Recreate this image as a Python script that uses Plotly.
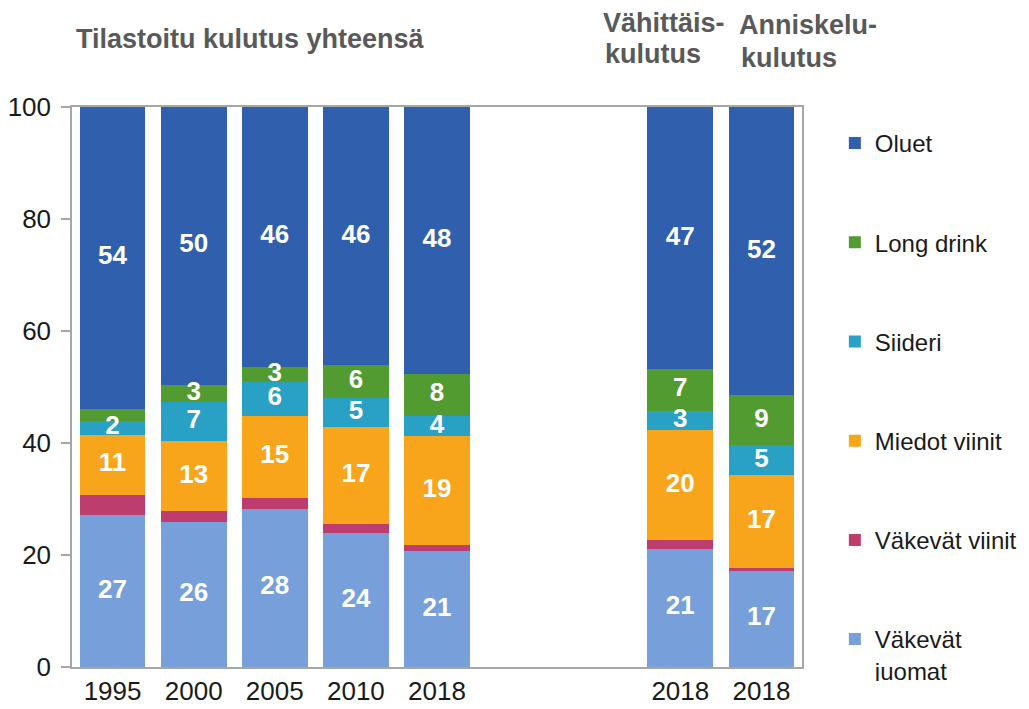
import plotly.graph_objects as go

# Category positions (slots 5 and 6 are an empty gap)
x_pos = [0, 1, 2, 3, 4, 7, 8]
x_labels = ["1995", "2000", "2005", "2010", "2018", "2018", "2018"]

series_names = ["Väkevät juomat", "Väkevät viinit", "Miedot viinit", "Siideri", "Long drink", "Oluet"]
legend_names = ["Väkevät<br>juomat", "Väkevät viinit", "Miedot viinit", "Siideri", "Long drink", "Oluet"]

vakevat_juomat = [27.1, 25.9, 28.3, 23.9, 20.7, 21.1, 17.3]
vakevat_viinit = [3.6, 1.9, 1.9, 1.6, 1.1, 1.5, 0.3]
miedot_viinit = [10.8, 12.6, 14.7, 17.4, 19.4, 19.8, 16.6]
siideri = [2.4, 6.9, 6.0, 5.2, 3.6, 3.4, 5.4]
long_drink = [2.2, 3.1, 2.7, 5.8, 7.6, 7.4, 8.9]
oluet = [53.9, 49.6, 46.4, 46.1, 47.6, 46.8, 51.5]

colors = ["#779FDA", "#BE3D6F", "#F8A51C", "#29A1C4", "#529B31", "#2F5FAD"]

values = [vakevat_juomat, vakevat_viinit, miedot_viinit, siideri, long_drink, oluet]
labeled = [True, False, True, True, True, True]

fig = go.Figure()
n = len(series_names)
for k, (name, lname, vals, col) in enumerate(zip(series_names, legend_names, values, colors)):
    fig.add_trace(go.Bar(
        x=x_pos, y=vals, name=lname, legendgroup=name, legendrank=n - k,
        marker=dict(color=col, line=dict(width=0)),
        width=0.81, hoverinfo="skip",
    ))

# value labels as a text layer drawn on top of all bars
tx, ty, tt = [], [], []
base = [0.0] * len(x_pos)
for vals, show in zip(values, labeled):
    for i, v in enumerate(vals):
        if show and v >= 2.3:
            tx.append(x_pos[i])
            ty.append(base[i] + v / 2)
            tt.append(f"{v:.0f}")
        base[i] += v
fig.add_trace(go.Scatter(
    x=tx, y=ty, text=tt, mode="text", showlegend=False, hoverinfo="skip",
    textfont=dict(family="Liberation Sans, Arial, sans-serif", size=26, color="white", weight="bold"),
    cliponaxis=False,
))

# the page body has an 8px margin, so the figure is drawn 8px smaller
axis_line = "#A6A6A6"
fig.update_layout(
    width=1021, height=701,
    barmode="stack", bargap=0,
    plot_bgcolor="white", paper_bgcolor="white",
    margin=dict(l=64, r=227, t=98.5, b=41.5, autoexpand=False),
    font=dict(family="Liberation Sans, Arial, sans-serif", size=24, color="#1A1A1A"),
    xaxis=dict(
        range=[-0.5, 8.5], tickmode="array", tickvals=x_pos, ticktext=x_labels,
        showline=True, linecolor=axis_line, linewidth=1.5, mirror=True,
        ticks="", showgrid=False, zeroline=False,
        tickfont=dict(size=26, color="#1A1A1A"),
    ),
    yaxis=dict(
        range=[0, 100], tickmode="linear", tick0=0, dtick=20,
        showline=True, linecolor=axis_line, linewidth=1.5, mirror=True,
        ticks="outside", ticklen=9, tickcolor=axis_line, tickwidth=1.5,
        showgrid=False, zeroline=False, ticklabelstandoff=5,
        tickfont=dict(size=26, color="#1A1A1A"),
    ),
    legend=dict(
        x=1.045, y=0.975, xanchor="left", yanchor="top",
        traceorder="grouped", tracegroupgap=65, valign="top",
        font=dict(size=24, color="#1A1A1A"),
        bgcolor="rgba(0,0,0,0)", maxheight=1,
    ),
    showlegend=True,
)

title_font = dict(family="Liberation Sans, Arial, sans-serif", size=27, color="#595959", weight="bold")

# positions below are page pixels, converted to paper coordinates of the plot area
def px_to_paper_y(py):
    return 1 + (106.5 - py) / 561.0

def px_to_paper_x(px):
    return (px - 72) / 730.0

for text, px, py in [
    ("Tilastoitu kulutus yhteensä", 74, 38),
    ("Vähittäis-", 601, 22),
    ("kulutus", 603, 53),
    ("Anniskelu-", 737, 24),
    ("kulutus", 739, 57),
]:
    fig.add_annotation(
        text=text, xref="paper", yref="paper",
        x=px_to_paper_x(px), y=px_to_paper_y(py),
        xanchor="left", yanchor="middle", showarrow=False, font=title_font,
    )

fig.write_html("out.html")
